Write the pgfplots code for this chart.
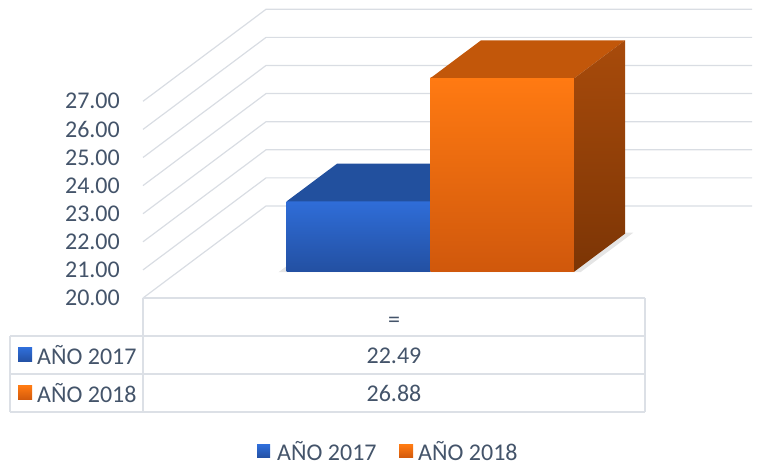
\documentclass[border=0pt]{standalone}
\usepackage{pgfplots}
\usepackage{pgfplotstable}
\pgfplotsset{compat=1.18}
\usepackage{fontspec}
\setmainfont{Carlito}
\definecolor{txt}{HTML}{44546A}
\definecolor{gridc}{HTML}{D9DDE3}
\definecolor{tabc}{HTML}{DCE0E6}
\definecolor{bFt}{HTML}{2F6DD8}
\definecolor{bFb}{HTML}{2350A2}
\definecolor{bTop}{HTML}{22509E}
\definecolor{oFt}{HTML}{FF7A12}
\definecolor{oFb}{HTML}{D0580C}
\definecolor{oTop}{HTML}{C2570A}
\definecolor{oSt}{HTML}{A84B0B}
\definecolor{oSb}{HTML}{7C3505}
% x0 x1 of each bar (front plane units), value
\pgfplotstableread{
serie x0 x1 valor
2017 251 395 22.49
2018 395 539 26.88
}\datos
\newcommand\drawbar[8]{%
 \addplot3[draw=none, mark=none, top color=#4, bottom color=#5] coordinates {(#1,0.29,20) (#2,0.29,20) (#2,0.29,#3) (#1,0.29,#3)};
 \addplot3[draw=none, mark=none, fill=#6] coordinates {(#1,0.29,#3) (#2,0.29,#3) (#2,0.70,#3) (#1,0.70,#3)};
 \addplot3[draw=none, mark=none, top color=#7, bottom color=#8] coordinates {(#2,0.29,20) (#2,0.70,20) (#2,0.70,#3) (#2,0.29,#3)};
}
\begin{document}%
\begin{tikzpicture}[font=\fontsize{24}{28}\selectfont, text=txt]
\pgfplotstablegetelem{0}{x0}\of\datos \edef\ax{\pgfplotsretval}
\pgfplotstablegetelem{0}{x1}\of\datos \edef\bx{\pgfplotsretval}
\pgfplotstablegetelem{0}{valor}\of\datos \edef\va{\pgfplotsretval}
\pgfplotstablegetelem{1}{x0}\of\datos \edef\cx{\pgfplotsretval}
\pgfplotstablegetelem{1}{x1}\of\datos \edef\dx{\pgfplotsretval}
\pgfplotstablegetelem{1}{valor}\of\datos \edef\vb{\pgfplotsretval}
\begin{axis}[
  x={(1pt,0pt)}, y={(123pt,92pt)}, z={(0pt,28.1pt)},
  xmin=0, xmax=758, ymin=0, ymax=1, zmin=14.02, zmax=30.6,
  hide axis, clip=false]
 \coordinate (TL) at (axis cs:0,0,30.605);
 % gridlines
 \pgfplotsinvokeforeach{20,21,...,27}{
   \addplot3[gridc, line width=1.2pt, mark=none] coordinates {(143,0,#1) (143,1,#1) (629,1,#1)};
   \node[anchor=east, inner sep=0pt, text=txt] at (axis cs:120,0,#1) {#1.00};
 }
 % shadow
 \addplot3[draw=none, mark=none, fill=black, fill opacity=0.10] coordinates {(244,0.28,20) (546,0.28,20) (546,0.71,20) (244,0.71,20)};
 \drawbar{\ax}{\bx}{\va}{bFt}{bFb}{bTop}{bFb}{bFb}
 \drawbar{\cx}{\dx}{\vb}{oFt}{oFb}{oTop}{oSt}{oSb}
\end{axis}
\pgfresetboundingbox
\path[use as bounding box] (TL) rectangle ++(758pt,-466pt);
\begin{scope}[shift={(TL)}, x=1pt, y=-1pt]
 % table
 \draw[tabc, line width=1.3pt] (143,298) -- (645,298);
 \draw[tabc, line width=1.3pt] (10,336) -- (645,336);
 \draw[tabc, line width=1.3pt] (10,374) -- (645,374);
 \draw[tabc, line width=1.3pt] (10,412) -- (645,412);
 \draw[tabc, line width=1.3pt] (10,336) -- (10,412);
 \draw[tabc, line width=1.3pt] (143,298) -- (143,412);
 \draw[tabc, line width=1.3pt] (645,298) -- (645,412);
 \node[inner sep=0pt] at (394,322) {=};
 \shade[top color=bFt, bottom color=bFb] (18,348) rectangle (32,362);
 \node[anchor=west, inner sep=0pt] at (37,355) {AÑO 2017};
 \node[inner sep=0pt] at (394,355.5) {22.49};
 \shade[top color=oFt, bottom color=oFb] (18,386) rectangle (32,400);
 \node[anchor=west, inner sep=0pt] at (37,393) {AÑO 2018};
 \node[inner sep=0pt] at (394,393.5) {26.88};
 % legend
 \shade[top color=bFt, bottom color=bFb] (257,445) rectangle (270,458);
 \node[anchor=west, inner sep=0pt] at (277,451) {AÑO 2017};
 \shade[top color=oFt, bottom color=oFb] (399,445) rectangle (413,458);
 \node[anchor=west, inner sep=0pt] at (418,451) {AÑO 2018};
\end{scope}
\end{tikzpicture}%
\end{document}
